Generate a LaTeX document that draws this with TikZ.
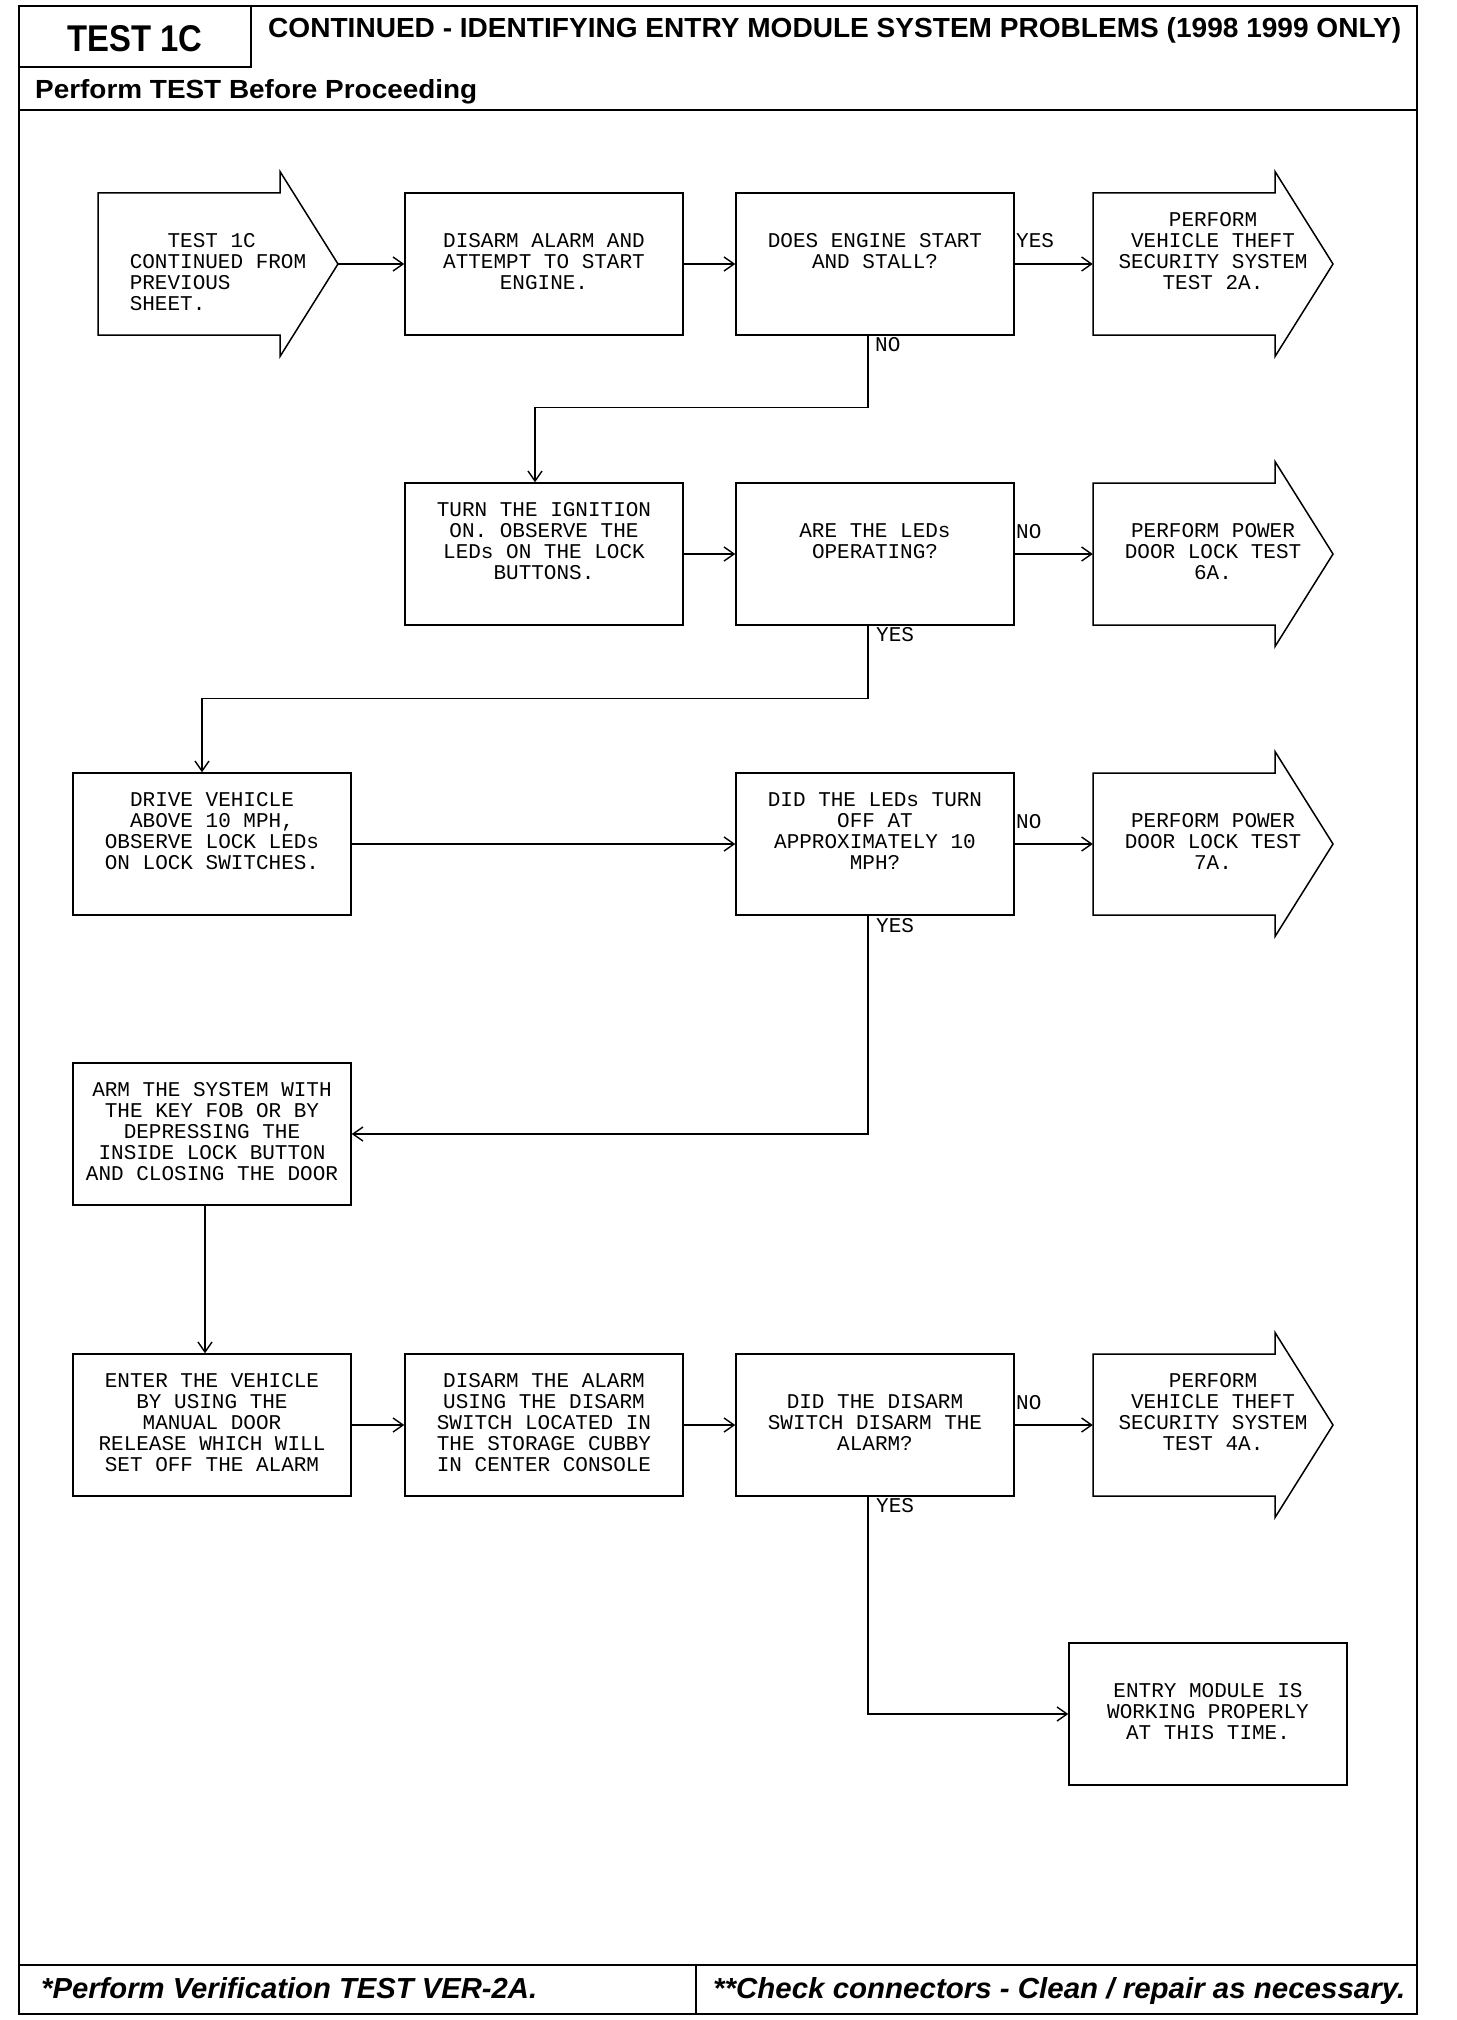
\documentclass[tikz,border=0pt]{standalone}
\usepackage{fontspec}
\setmonofont{Liberation Mono}
\setsansfont{Liberation Sans}
\usetikzlibrary{arrows.meta,calc}
\newcommand\fl[5]{\strut#1\\\strut#2\\\strut#3\\\strut#4\\\strut#5}
\newcommand\arrowoutline[1]{\draw[shapeline] ($(#1.center)+(-120,-71)$) -- ($(#1.center)+(62,-71)$) -- ($(#1.center)+(62,-92.5)$) -- ($(#1.center)+(120,0)$) -- ($(#1.center)+(62,92.5)$) -- ($(#1.center)+(62,71)$) -- ($(#1.center)+(-120,71)$) -- cycle;}
\begin{document}
\begin{tikzpicture}[x=1pt,y=-1pt,
  mono/.style={font=\fontsize{21}{21}\selectfont\ttfamily},
  fbox/.style={draw, line width=1.5pt, minimum width=278pt, minimum height=142pt, inner sep=0pt, align=center, mono},
  ashape/.style={minimum width=240pt, minimum height=185pt, inner sep=0pt, align=center, mono},
  shapeline/.style={line width=1.5pt, line join=miter},
  conn/.style={line width=1.4pt, -{Straight Barb[length=10pt,width=14pt,line width=1.4pt]}},
  lbl/.style={mono, inner sep=0pt, anchor=base west},
  frame/.style={line width=2.5pt},
  hdr/.style={inner sep=0pt, anchor=base west, font=\sffamily\bfseries}]
\useasboundingbox (0,0) rectangle (1456,2020);
% frame
\draw[frame] (19,6) rectangle (1417,2014);
\draw[frame] (251,6) -- (251,67) -- (19,67);
\draw[frame] (19,110) -- (1417,110);
\draw[frame] (19,1965) -- (1417,1965);
\draw[frame] (696,1965) -- (696,2014);
\node[hdr] (t1c) at (67,52) {\resizebox{135pt}{26pt}{TEST 1C}};
\node[hdr] (title) at (268,38) {\resizebox{1133pt}{20pt}{CONTINUED - IDENTIFYING ENTRY MODULE SYSTEM PROBLEMS (1998 1999 ONLY)}};
\node[hdr] (perf) at (35,99) {\resizebox{442pt}{19pt}{Perform TEST Before Proceeding}};
\node[hdr, font=\sffamily\bfseries\itshape] (foot1) at (41,1998) {\resizebox{496pt}{21pt}{*Perform Verification TEST VER-2A.}};
\node[hdr, font=\sffamily\bfseries\itshape] (foot2) at (713,1998) {\resizebox{692pt}{21pt}{**Check connectors - Clean / repair as necessary.}};
% row 1
\node[ashape, align=left] (a1) at (218,264) {\fl{}{\phantom{XXX}TEST 1C}{CONTINUED FROM}{PREVIOUS}{SHEET.}};
\arrowoutline{a1}
\node[fbox] (b2) at (544,264) {\fl{}{DISARM ALARM AND}{ATTEMPT TO START}{ENGINE.}{}};
\node[fbox] (b3) at (875,264) {\fl{}{DOES ENGINE START}{AND STALL?}{}{}};
\node[ashape] (a4) at (1213,264) {\fl{PERFORM}{VEHICLE THEFT}{SECURITY SYSTEM}{TEST 2A.}{}};
\arrowoutline{a4}
% row 2
\node[fbox] (turn) at (544,554) {\fl{TURN THE IGNITION}{ON. OBSERVE THE}{LEDs ON THE LOCK}{BUTTONS.}{}};
\node[fbox] (are) at (875,554) {\fl{}{ARE THE LEDs}{OPERATING?}{}{}};
\node[ashape] (a6) at (1213,554) {\fl{}{PERFORM POWER}{DOOR LOCK TEST}{6A.}{}};
\arrowoutline{a6}
% row 3
\node[fbox] (drive) at (212,844) {\fl{DRIVE VEHICLE}{ABOVE 10 MPH,}{OBSERVE LOCK LEDs}{ON LOCK SWITCHES.}{}};
\node[fbox] (didled) at (875,844) {\fl{DID THE LEDs TURN}{OFF AT}{APPROXIMATELY 10}{MPH?}{}};
\node[ashape] (a7) at (1213,844) {\fl{}{PERFORM POWER}{DOOR LOCK TEST}{7A.}{}};
\arrowoutline{a7}
% row 4
\node[fbox] (arm) at (212,1134) {\fl{ARM THE SYSTEM WITH}{THE KEY FOB OR BY}{DEPRESSING THE}{INSIDE LOCK BUTTON}{AND CLOSING THE DOOR}};
% row 5
\node[fbox] (enter) at (212,1425) {\fl{ENTER THE VEHICLE}{BY USING THE}{MANUAL DOOR}{RELEASE WHICH WILL}{SET OFF THE ALARM}};
\node[fbox] (disalarm) at (544,1425) {\fl{DISARM THE ALARM}{USING THE DISARM}{SWITCH LOCATED IN}{THE STORAGE CUBBY}{IN CENTER CONSOLE}};
\node[fbox] (diddis) at (875,1425) {\fl{}{DID THE DISARM}{SWITCH DISARM THE}{ALARM?}{}};
\node[ashape] (a4a) at (1213,1425) {\fl{PERFORM}{VEHICLE THEFT}{SECURITY SYSTEM}{TEST 4A.}{}};
\arrowoutline{a4a}
% row 6
\node[fbox] (entry) at (1208,1714) {\fl{}{ENTRY MODULE IS}{WORKING PROPERLY}{AT THIS TIME.}{}};
% connectors
\draw[conn] (a1.east) -- (b2.west);
\draw[conn] (b2.east) -- (b3.west);
\draw[conn] (b3.east) -- (a4.west);
\draw[conn] ([xshift=-7pt]b3.south) -- ++(0,72) -| ([xshift=-9pt]turn.north);
\draw[conn] (turn.east) -- (are.west);
\draw[conn] (are.east) -- (a6.west);
\draw[conn] ([xshift=-7pt]are.south) -- ++(0,73) -| ([xshift=-10pt]drive.north);
\draw[conn] (drive.east) -- (didled.west);
\draw[conn] (didled.east) -- (a7.west);
\draw[conn] ([xshift=-7pt]didled.south) |- (arm.east);
\draw[conn] ([xshift=-7pt]arm.south) -- ([xshift=-7pt]enter.north);
\draw[conn] (enter.east) -- (disalarm.west);
\draw[conn] (disalarm.east) -- (diddis.west);
\draw[conn] (diddis.east) -- (a4a.west);
\draw[conn] ([xshift=-7pt]diddis.south) |- (entry.west);
% labels
\node[lbl] (y1) at (1016,247) {YES};
\node[lbl] (n1) at (875,351) {NO};
\node[lbl] (n2) at (1016,538) {NO};
\node[lbl] (y2) at (876,641) {YES};
\node[lbl] (n3) at (1016,828) {NO};
\node[lbl] (y3) at (876,932) {YES};
\node[lbl] (n5) at (1016,1409) {NO};
\node[lbl] (y5) at (876,1512) {YES};
\end{tikzpicture}
\end{document}
